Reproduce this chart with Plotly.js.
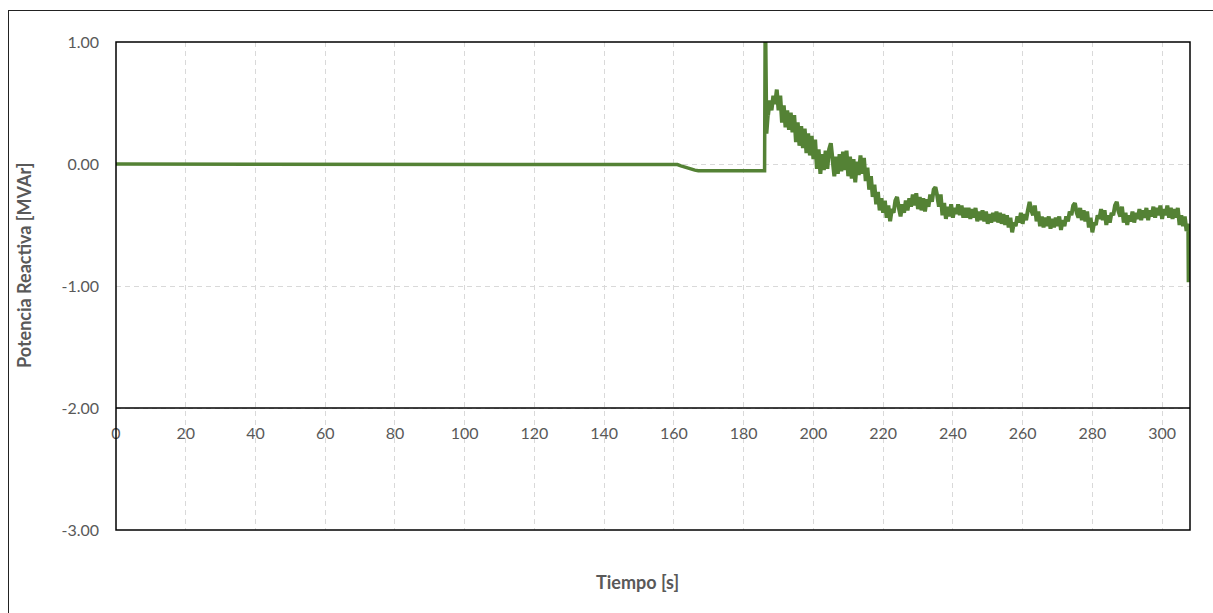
<!DOCTYPE html>
<html>
<head>
<meta charset="utf-8">
<script src="https://cdn.plot.ly/plotly-3.0.1.min.js"></script>
<style>
  html, body { margin: 0; padding: 0; background: #fff; overflow: hidden; }
  #wrap { position: relative; width: 1213px; height: 613px; }
  #chart { width: 1213px; height: 613px; }
  #frame { position: absolute; left: 8px; top: 10px; width: 1400px; height: 800px;
           border-left: 1px solid #222; border-top: 1px solid #222; pointer-events: none; }
</style>
</head>
<body>
<div id="wrap">
  <div id="chart"></div>
  <div id="frame"></div>
</div>
<script>
// Reactive power record: steady section, step and then the noisy recovery
const baseTimes  = [0, 160, 161, 162, 163, 164, 165, 166, 167, 168, 186, 186.2, 186.6, 187];
const baseValues = [0, 0, -0.005, -0.015, -0.025, -0.035, -0.045, -0.05, -0.055, -0.055, -0.055, 1.4, 0.25, 0.40];

// Sampled every 0.5 s starting at 187 s
const noisyStart = 187;
const noisyStep = 0.5;
const noisyValues = [
  0.40, 0.52, 0.44, 0.56, 0.49, 0.61, 0.44, 0.56, 0.34, 0.48,
  0.30, 0.44, 0.28, 0.42, 0.26, 0.40, 0.18, 0.34, 0.15, 0.31,
  0.13, 0.29, 0.09, 0.25, 0.07, 0.23, 0.04, 0.20, -0.04, 0.12,
  -0.08, 0.08, -0.05, 0.11, -0.04, 0.12, 0.17, 0.01, -0.10, 0.06,
  -0.08, 0.08, -0.06, 0.10, -0.05, 0.11, -0.10, 0.06, -0.12, 0.04,
  -0.15, 0.02, -0.09, 0.07, -0.08, 0.05, -0.14, -0.03, -0.21, -0.10,
  -0.27, -0.17, -0.33, -0.23, -0.38, -0.28, -0.40, -0.30, -0.44, -0.34,
  -0.47, -0.37, -0.40, -0.30, -0.27, -0.36, -0.43, -0.33, -0.40, -0.30,
  -0.38, -0.28, -0.35, -0.25, -0.34, -0.24, -0.37, -0.27, -0.38, -0.28,
  -0.39, -0.29, -0.35, -0.25, -0.31, -0.21, -0.19, -0.26, -0.35, -0.25,
  -0.42, -0.32, -0.45, -0.35, -0.43, -0.33, -0.44, -0.36, -0.41, -0.33,
  -0.42, -0.34, -0.44, -0.36, -0.44, -0.36, -0.45, -0.37, -0.44, -0.36,
  -0.47, -0.39, -0.46, -0.38, -0.47, -0.39, -0.49, -0.41, -0.48, -0.40,
  -0.47, -0.39, -0.48, -0.40, -0.49, -0.41, -0.50, -0.42, -0.52, -0.44,
  -0.56, -0.48, -0.51, -0.43, -0.48, -0.40, -0.49, -0.41, -0.46, -0.38,
  -0.31, -0.38, -0.42, -0.34, -0.47, -0.39, -0.51, -0.43, -0.52, -0.44,
  -0.51, -0.43, -0.53, -0.45, -0.52, -0.44, -0.51, -0.43, -0.54, -0.46,
  -0.51, -0.43, -0.47, -0.39, -0.42, -0.34, -0.32, -0.40, -0.44, -0.36,
  -0.46, -0.38, -0.47, -0.39, -0.52, -0.44, -0.56, -0.48, -0.50, -0.42,
  -0.45, -0.37, -0.46, -0.38, -0.50, -0.42, -0.48, -0.40, -0.42, -0.34,
  -0.31, -0.39, -0.43, -0.35, -0.48, -0.40, -0.50, -0.42, -0.47, -0.39,
  -0.48, -0.40, -0.45, -0.37, -0.46, -0.38, -0.44, -0.36, -0.46, -0.38,
  -0.43, -0.35, -0.44, -0.36, -0.42, -0.34, -0.45, -0.37, -0.42, -0.34,
  -0.44, -0.36, -0.45, -0.37, -0.44, -0.36, -0.50, -0.42, -0.51, -0.43,
  -0.55, -0.49
];
const endTimes  = [307.6];
const endValues = [-0.97];

const xTickVals = [0, 20, 40, 60, 80, 100, 120, 140, 160, 180, 200, 220, 240, 260, 280, 300];
const xTickText = ['0', '20', '40', '60', '80', '100', '120', '140', '160', '180', '200', '220', '240', '260', '280', '300'];
const yTickVals = [1, 0, -1, -2, -3];
const yTickText = ['1.00', '0.00', '-1.00', '-2.00', '-3.00'];

const tNoisy = [];
const qNoisy = [];
noisyValues.forEach((v, i) => { tNoisy.push(noisyStart + i * noisyStep); qNoisy.push(v); });
endTimes.forEach((v, i) => { tNoisy.push(v); qNoisy.push(endValues[i]); });

const FONT = 'Lato, "Open Sans", sans-serif';
const GREY = '#595959';
const GREEN = '#548235';

const traces = [
  { x: baseTimes, y: baseValues, type: 'scatter', mode: 'lines',
    line: { color: GREEN, width: 3.5 }, hoverinfo: 'skip' },
  { x: tNoisy, y: qNoisy, type: 'scatter', mode: 'lines',
    line: { color: GREEN, width: 4, shape: 'linear' }, hoverinfo: 'skip' }
];

const layout = {
  width: 1213, height: 613,
  margin: { l: 116, r: 23, t: 42, b: 83 },
  paper_bgcolor: '#ffffff', plot_bgcolor: '#ffffff',
  showlegend: false,
  font: { family: FONT, size: 16, color: GREY },
  xaxis: {
    range: [0, 308],
    tickvals: xTickVals, ticktext: xTickText,
    ticks: '',
    showgrid: true, gridcolor: '#d9d9d9', gridwidth: 1, griddash: '5px,4px',
    zeroline: false, showline: false,
    anchor: 'free', position: 0.25,
    ticklabelstandoff: 14,
    tickfont: { family: FONT, size: 16, color: GREY }
  },
  yaxis: {
    range: [-3, 1],
    tickvals: yTickVals, ticktext: yTickText,
    ticks: '',
    showgrid: true, gridcolor: '#d9d9d9', gridwidth: 1, griddash: '5px,4px',
    zeroline: false, showline: false,
    ticklabelstandoff: 16,
    tickfont: { family: FONT, size: 16, color: GREY }
  },
  shapes: [
    { type: 'rect', xref: 'paper', yref: 'paper', x0: 0, x1: 1, y0: 0, y1: 1,
      line: { color: '#000', width: 1.5 }, layer: 'above' },
    { type: 'line', xref: 'paper', yref: 'y', x0: 0, x1: 1, y0: -2, y1: -2,
      line: { color: '#000', width: 1.5 }, layer: 'above' }
  ],
  annotations: [
    { text: '<b>Tiempo [s]</b>', xref: 'paper', yref: 'paper', x: 0.486, y: -0.1066,
      showarrow: false, xanchor: 'center', yanchor: 'middle',
      font: { family: FONT, size: 18, color: GREY } },
    { text: '<b>Potencia Reactiva [MVAr]</b>', xref: 'paper', yref: 'paper', x: -0.0857, y: 0.543,
      showarrow: false, textangle: -90, xanchor: 'center', yanchor: 'middle',
      font: { family: FONT, size: 18, color: GREY } }
  ]
};

Plotly.newPlot('chart', traces, layout, { displayModeBar: false, staticPlot: true });
</script>
</body>
</html>
